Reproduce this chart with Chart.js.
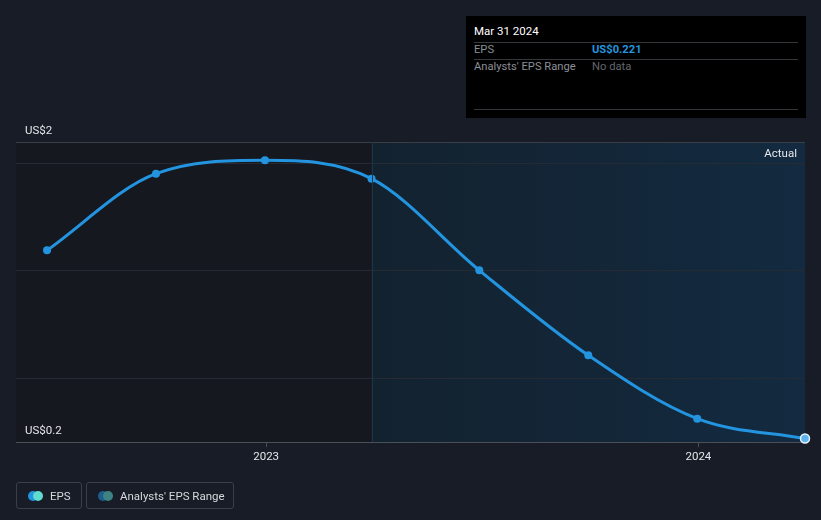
<!DOCTYPE html>
<html>
<head>
<meta charset="utf-8">
<script src="https://cdn.jsdelivr.net/npm/chart.js@4.4.1/dist/chart.umd.min.js"></script>
<style>
  html, body { margin: 0; padding: 0; background: #171c26; font-family: Roboto, "Noto Sans", sans-serif; }
  #wrap { position: relative; width: 821px; height: 520px; }
  #c { position: absolute; left: 0; top: 0; }
  .tip { position: absolute; left: 466px; top: 16px; width: 340px; height: 102px; background: #000; font-size: 11.2px; }
  .tip .t { position: absolute; left: 8px; top: 8px; color: #fff; font-size: 11.5px; }
  .tip .sep { position: absolute; left: 8px; width: 324px; height: 1px; background: #34373c; }
  .tip .k { position: absolute; left: 8px; color: #8b8f96; }
  .tip .v { position: absolute; left: 126px; }
  .legend { position: absolute; top: 482px; height: 27px; border: 1px solid #3a3f49; border-radius: 3px; box-sizing: border-box;
            color: #d6d8dc; font-size: 11.5px; display: flex; align-items: center; white-space: nowrap; }
  .dots { position: relative; width: 15px; height: 10px; margin: 0 7px 0 11px; }
  .dots i { position: absolute; top: 0; width: 10px; height: 10px; border-radius: 50%; }
</style>
</head>
<body>
<div id="wrap">
  <canvas id="c" width="821" height="520"></canvas>
  <div class="tip">
    <div class="t">Mar 31 2024</div>
    <div class="sep" style="top:26px"></div>
    <div class="k" style="top:27px">EPS</div>
    <div class="v" style="top:27px;color:#2394df;font-weight:bold">US$0.221</div>
    <div class="sep" style="top:43px"></div>
    <div class="k" style="top:44px">Analysts' EPS Range</div>
    <div class="v" style="top:44px;color:#62666c">No data</div>
    <div class="sep" style="top:93px"></div>
  </div>
  <div class="legend" style="left:16px;width:66px">
    <span class="dots"><i style="left:0;background:#2394df"></i><i style="left:5px;background:#5fdccd"></i></span>EPS
  </div>
  <div class="legend" style="left:86px;width:148px">
    <span class="dots"><i style="left:0;background:#1d5f8c"></i><i style="left:5px;background:#3f8282"></i></span>Analysts' EPS Range
  </div>
</div>
<script>
// quarter end dates
const dates = ["2022-06-30", "2022-09-30", "2022-12-31", "2023-03-31", "2023-06-30", "2023-09-30", "2023-12-31", "2024-03-31"];
const eps = [1.35, 1.81, 1.89, 1.78, 1.23, 0.72, 0.34, 0.221];
const yearTicks = ["2023-01-01", "2024-01-01"];
const gridValues = [0.2, 0.584, 1.232, 1.868, 2];
const yLabels = [{ value: 2, text: "US$2" }, { value: 0.2, text: "US$0.2" }];
const actualFrom = "2023-03-31";

const day = (s) => Date.parse(s + "T00:00:00Z") / 86400000;

const backdrop = {
  id: "backdrop",
  beforeDraw(chart) {
    const { ctx, chartArea: a, scales } = chart;
    const xs = scales.x.getPixelForValue(day(actualFrom));
    ctx.save();
    ctx.fillStyle = "#15181f";
    ctx.fillRect(a.left, a.top, xs - a.left, a.bottom - a.top);
    const g = ctx.createLinearGradient(xs, 0, a.right, 0);
    g.addColorStop(0, "#13222f");
    g.addColorStop(1, "#132a40");
    ctx.fillStyle = g;
    ctx.fillRect(xs, a.top, a.right - xs, a.bottom - a.top);
    ctx.restore();
  },
  afterDatasetsDraw(chart) {
    const { ctx, chartArea: a, scales } = chart;
    const xs = scales.x.getPixelForValue(day(actualFrom));
    ctx.save();
    ctx.strokeStyle = "#1f3449";
    ctx.lineWidth = 1;
    ctx.beginPath();
    ctx.moveTo(Math.round(xs) + 0.5, a.top);
    ctx.lineTo(Math.round(xs) + 0.5, a.bottom);
    ctx.stroke();
    ctx.font = "11.5px Roboto, sans-serif";
    ctx.fillStyle = "#e4e6ea";
    ctx.textAlign = "right";
    ctx.textBaseline = "middle";
    ctx.fillText("Actual", a.right - 8, a.top + 12);
    ctx.textAlign = "left";
    yLabels.forEach((l) => {
      ctx.fillText(l.text, 25, scales.y.getPixelForValue(l.value) - 11);
    });
    ctx.restore();
  }
};

new Chart(document.getElementById("c"), {
  type: "line",
  data: {
    datasets: [{
      label: "EPS",
      data: dates.map((d, i) => ({ x: day(d), y: eps[i] })),
      borderColor: "#2394df",
      backgroundColor: "#2394df",
      borderWidth: 3,
      cubicInterpolationMode: "monotone",
      pointRadius: (c) => (c.dataIndex === eps.length - 1 ? 4.5 : 4),
      pointBackgroundColor: (c) => (c.dataIndex === eps.length - 1 ? "#5db4ee" : "#2394df"),
      pointBorderColor: (c) => (c.dataIndex === eps.length - 1 ? "#e8f4ff" : "#2394df"),
      pointBorderWidth: (c) => (c.dataIndex === eps.length - 1 ? 1.5 : 0),
      clip: false
    }]
  },
  options: {
    responsive: false,
    animation: false,
    layout: { padding: { left: 16, right: 16, top: 142, bottom: 0 } },
    plugins: { legend: { display: false }, tooltip: { enabled: false } },
    scales: {
      x: {
        type: "linear",
        min: day(dates[0]) - 26.2,
        max: day(dates[dates.length - 1]),
        afterBuildTicks: (s) => { s.ticks = yearTicks.map((v) => ({ value: day(v) })); },
        afterFit: (s) => { s.height = 78; },
        grid: { display: true, drawOnChartArea: false, tickLength: 5, color: "#4a4f58" },
        border: { display: true, color: "#4a4f58", width: 1 },
        ticks: {
          color: "#e4e6ea",
          font: { size: 11.5, family: "Roboto" },
          padding: 3,
          maxRotation: 0,
          callback: (v) => String(new Date(v * 86400000).getUTCFullYear())
        }
      },
      y: {
        min: 0.2,
        max: 2,
        afterBuildTicks: (s) => { s.ticks = gridValues.map((v) => ({ value: v })); },
        afterFit: (s) => { s.width = 0; },
        ticks: { display: false },
        border: { display: false },
        grid: {
          drawTicks: false,
          color: (c) => (c.tick.value === 2 ? "#3a3f47" : c.tick.value === 0.2 ? "#4a4f58" : "#262b33")
        }
      }
    }
  },
  plugins: [backdrop]
});
</script>
</body>
</html>
